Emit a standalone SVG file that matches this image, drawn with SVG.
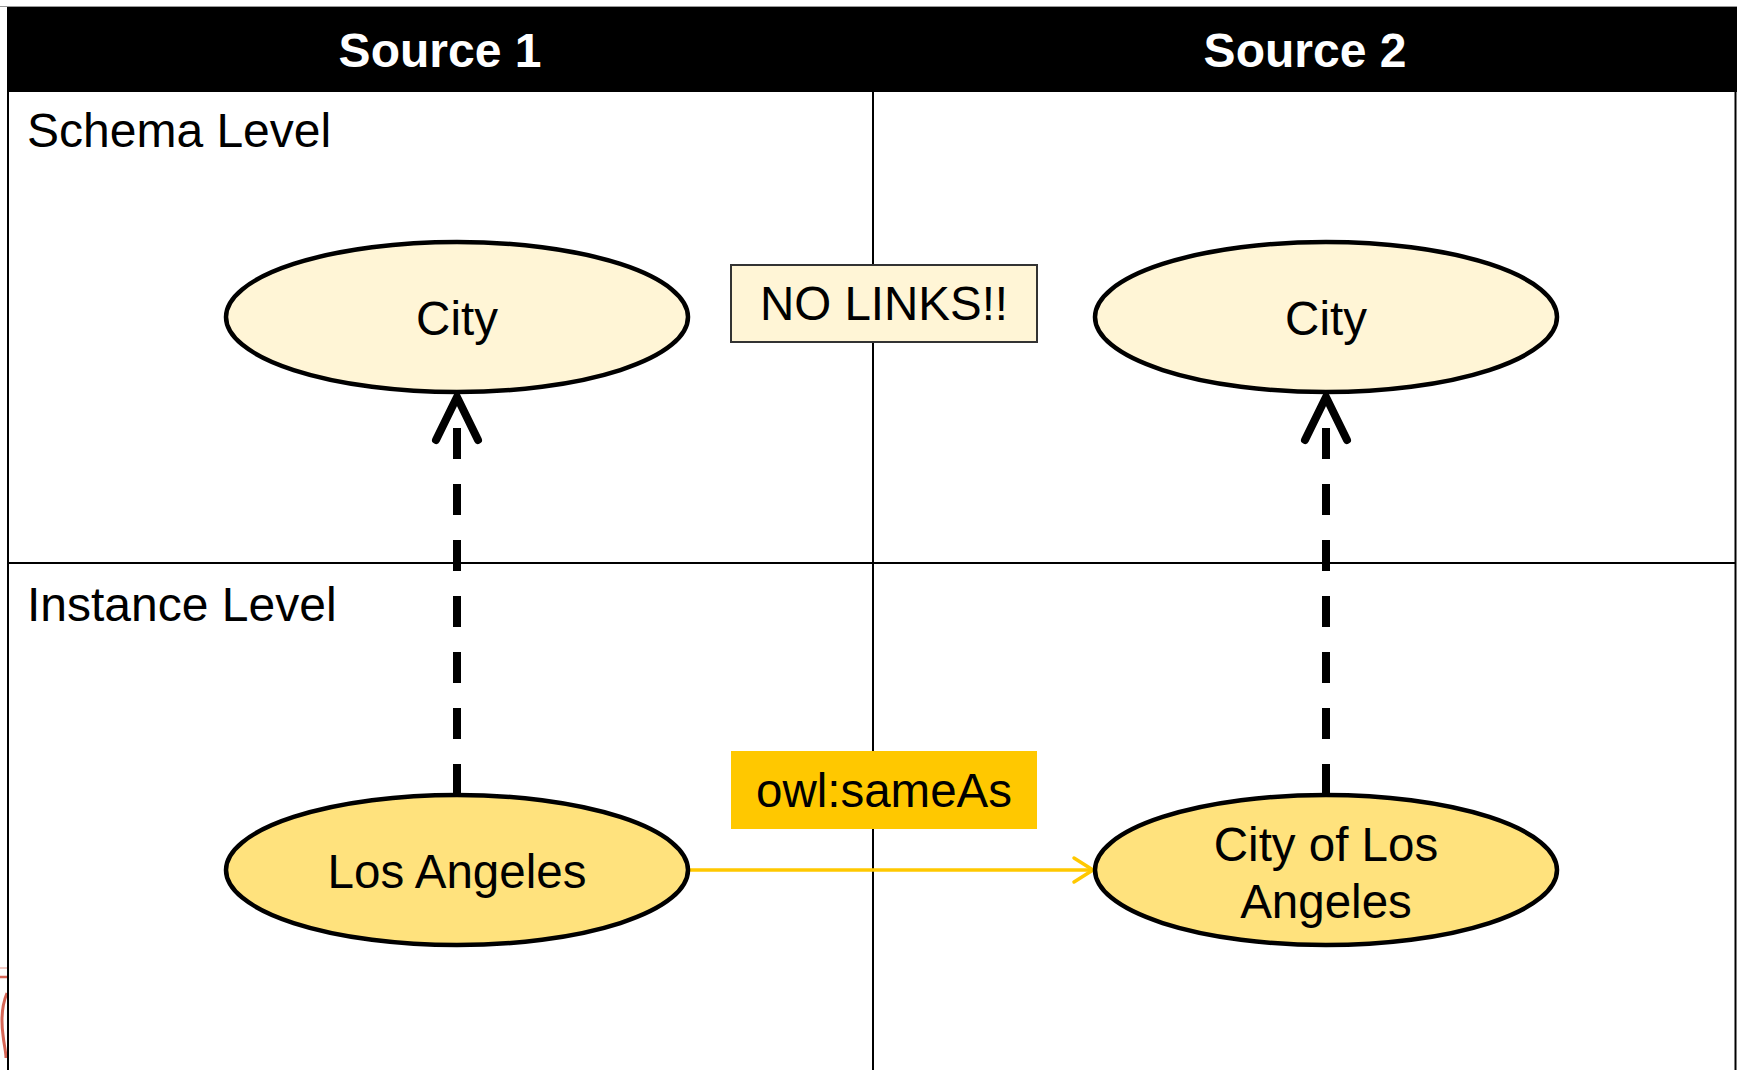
<svg xmlns="http://www.w3.org/2000/svg" width="1737" height="1070" viewBox="0 0 1737 1070">
  <style>
    .frame { stroke: #000; stroke-width: 2; fill: none; }
    .head { font-family: "Liberation Sans", Arial, sans-serif; font-weight: bold; font-size: 48px; fill: #fff; text-anchor: middle; }
    .lvl { font-family: "Liberation Sans", Arial, sans-serif; font-size: 48px; fill: #000; }
    .lbl { font-family: "Liberation Sans", Arial, sans-serif; font-size: 47.5px; fill: #000; text-anchor: middle; }
    .cls { fill: #FFF5D6; stroke: #000; stroke-width: 4.5; }
    .inst { fill: #FFE27D; stroke: #000; stroke-width: 4.5; }
    .typeof { stroke: #000; stroke-width: 8; fill: none; stroke-dasharray: 31 25; }
    .typehead { stroke: #000; stroke-width: 8; fill: none; stroke-linecap: round; stroke-linejoin: miter; }
    .same { stroke: #FFC800; stroke-width: 3.5; fill: none; stroke-linecap: round; stroke-linejoin: round; }
  </style>
  <defs>
    <path id="openHead" class="typehead" d="M -21 43 L 0 0 L 21 43"/>
  </defs>

  <rect x="0" y="0" width="1737" height="1070" fill="#fff"/>

  <!-- faint red mark at the left margin -->
  <g id="margin-mark" fill="none" stroke="#C8331E" stroke-opacity="0.75">
    <path d="M 0 968 L 7 968" stroke-width="1.5" stroke-opacity="0.35"/>
    <path d="M 0 977 L 7 977" stroke-width="2.5"/>
    <path d="M 7 993 C 2 1005 1 1020 3 1035 C 4 1045 6 1052 6 1058" stroke-width="3"/>
  </g>

  <!-- table grid -->
  <g id="grid">
    <line x1="0" y1="6.5" x2="1737" y2="6.5" stroke="#999" stroke-width="1"/>
    <rect x="7" y="7" width="1730" height="85" fill="#000"/>
    <line class="frame" x1="8" y1="92" x2="8" y2="1070"/>
    <line class="frame" x1="1735.5" y1="92" x2="1735.5" y2="1070" stroke="#222"/>
    <line class="frame" x1="873" y1="92" x2="873" y2="1070"/>
    <line class="frame" x1="8" y1="563" x2="1736" y2="563"/>
    <text class="head" x="440" y="67">Source 1</text>
    <text class="head" x="1305" y="67">Source 2</text>
    <text class="lvl" x="27" y="147">Schema Level</text>
    <text class="lvl" x="27" y="621">Instance Level</text>
  </g>

  <!-- connectors -->
  <g id="connectors">
    <path class="typeof" d="M 457 795 L 457 428"/>
    <use href="#openHead" x="457" y="397"/>
    <path class="typeof" d="M 1326 795 L 1326 428"/>
    <use href="#openHead" x="1326" y="397"/>
    <path class="same" d="M 689 870 L 1092 870"/>
    <path class="same" d="M 1074 858 L 1093 870 L 1074 882"/>
  </g>

  <!-- schema level classes -->
  <g id="city-source1">
    <ellipse class="cls" cx="457" cy="317" rx="231" ry="75"/>
    <text class="lbl" x="457" y="335">City</text>
  </g>
  <g id="city-source2">
    <ellipse class="cls" cx="1326" cy="317" rx="231" ry="75"/>
    <text class="lbl" x="1326" y="335">City</text>
  </g>

  <g id="no-links">
    <rect x="731" y="265" width="306" height="77" fill="#FFF5D6" stroke="#333" stroke-width="2"/>
    <text class="lbl" x="884" y="320">NO LINKS!!</text>
  </g>

  <!-- instance level -->
  <g id="los-angeles">
    <ellipse class="inst" cx="457" cy="870" rx="231" ry="75"/>
    <text class="lbl" x="457" y="888">Los Angeles</text>
  </g>
  <g id="city-of-los-angeles">
    <ellipse class="inst" cx="1326" cy="870" rx="231" ry="75"/>
    <text class="lbl" x="1326" y="861">City of Los</text>
    <text class="lbl" x="1326" y="918">Angeles</text>
  </g>

  <g id="same-as-label">
    <rect x="731" y="751" width="306" height="78" fill="#FFC800"/>
    <text class="lbl" x="884" y="807">owl:sameAs</text>
  </g>
</svg>
